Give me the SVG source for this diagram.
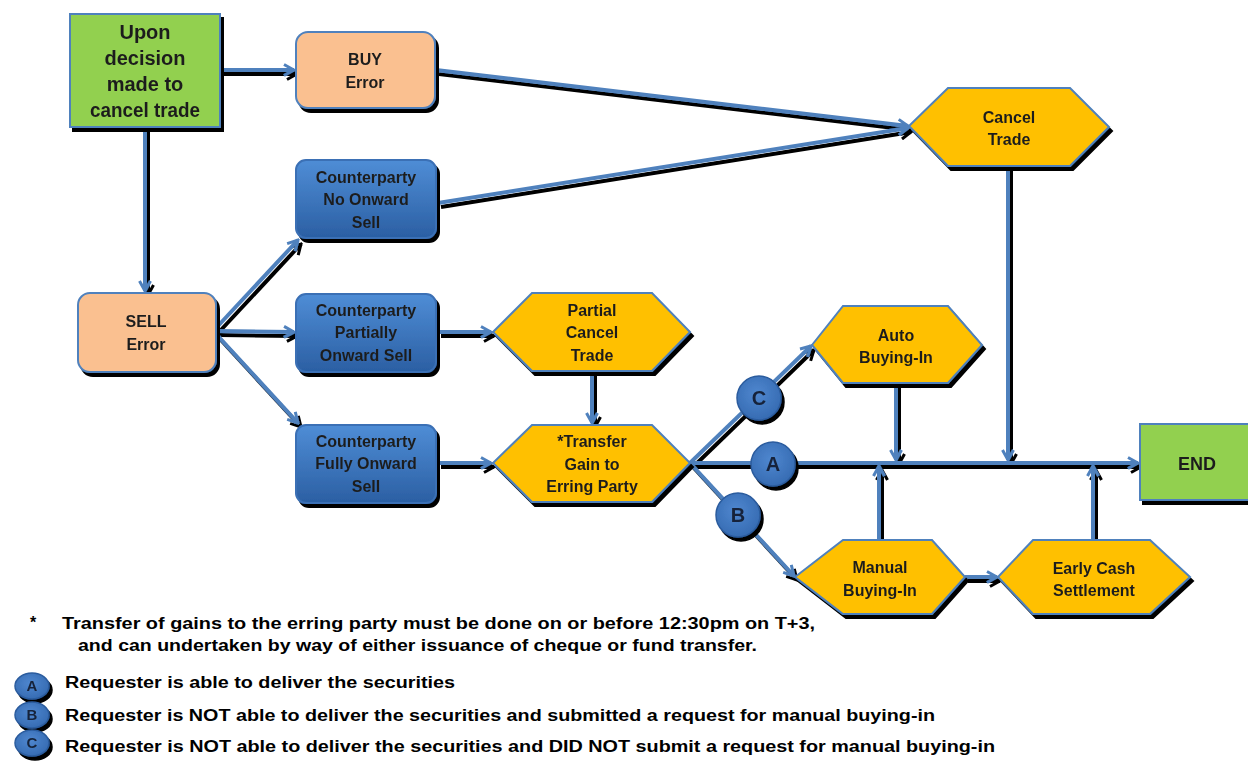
<svg xmlns="http://www.w3.org/2000/svg" width="1248" height="764" viewBox="0 0 1248 764">
<defs>
  <linearGradient id="gBlue" x1="0" y1="0" x2="0" y2="1">
    <stop offset="0" stop-color="#4F8DD6"/>
    <stop offset="1" stop-color="#2B5FA3"/>
  </linearGradient>
  <radialGradient id="gCirc" cx="0.45" cy="0.4" r="0.7">
    <stop offset="0" stop-color="#4F87CF"/>
    <stop offset="1" stop-color="#3267AE"/>
  </radialGradient>
  <filter id="sh" x="-10%" y="-10%" width="130%" height="140%">
    <feDropShadow dx="3" dy="4" stdDeviation="0.6" flood-color="#000" flood-opacity="1"/>
  </filter>
  <marker id="arr" viewBox="0 0 14 14" refX="12" refY="7" markerWidth="14" markerHeight="14" markerUnits="userSpaceOnUse" orient="auto">
    <path d="M2,1.5 L12,7 L2,12.5" fill="none" stroke="#4F81BD" stroke-width="3" stroke-linejoin="miter"/>
  </marker>
</defs>
<style>
  .node { filter: url(#sh); }
  .green { fill: #92D050; stroke: #4F81BD; stroke-width: 2; }
  .peach { fill: #FAC090; stroke: #4F81BD; stroke-width: 2; }
  .blue { fill: url(#gBlue); stroke: #3A6FB5; stroke-width: 2; }
  .gold { fill: #FFC000; stroke: #4F81BD; stroke-width: 2; }
  .circ { fill: url(#gCirc); stroke: #2C5C9E; stroke-width: 1.5; }
  .t { font-family: "Liberation Sans", Arial, sans-serif; font-weight: bold; font-size: 16px; fill: #1E1E1E; text-anchor: middle; }
  .tb { font-size: 20px; }
  .lt { font-family: "Liberation Sans", Arial, sans-serif; font-weight: bold; font-size: 20px; fill: #16243A; text-anchor: middle; }
  .ls { font-family: "Liberation Sans", Arial, sans-serif; font-weight: bold; font-size: 15px; fill: #16243A; text-anchor: middle; }
  .ft { font-family: "Liberation Sans", Arial, sans-serif; font-weight: bold; font-size: 16px; fill: #000; }
  .conn path, .conn line { fill: none; stroke: #4F81BD; stroke-width: 4; }
</style>
<rect width="1248" height="764" fill="#FFFFFF"/>

<g id="connectors" class="conn" filter="url(#sh)">
  <line x1="220" y1="70" x2="294" y2="70" marker-end="url(#arr)"/>
  <line x1="145" y1="127" x2="145" y2="291" marker-end="url(#arr)"/>
  <line x1="436" y1="70" x2="908" y2="126" marker-end="url(#arr)"/>
  <line x1="438" y1="203" x2="908" y2="128" marker-end="url(#arr)"/>
  <line x1="217" y1="327" x2="298" y2="240" marker-end="url(#arr)"/>
  <line x1="217" y1="331" x2="294" y2="332" marker-end="url(#arr)"/>
  <line x1="217" y1="335" x2="298" y2="423" marker-end="url(#arr)"/>
  <line x1="438" y1="332" x2="491" y2="332" marker-end="url(#arr)"/>
  <line x1="592" y1="371" x2="592" y2="423" marker-end="url(#arr)"/>
  <line x1="438" y1="463" x2="491" y2="463" marker-end="url(#arr)"/>
  <line x1="690" y1="463" x2="1138" y2="463" marker-end="url(#arr)"/>
  <line x1="690" y1="463" x2="811" y2="346" marker-end="url(#arr)"/>
  <line x1="690" y1="463" x2="794" y2="576" marker-end="url(#arr)"/>
  <line x1="965" y1="577" x2="997" y2="577" marker-end="url(#arr)"/>
  <line x1="896" y1="384" x2="896" y2="460" marker-end="url(#arr)"/>
  <line x1="1008" y1="166" x2="1008" y2="460" marker-end="url(#arr)"/>
  <line x1="879" y1="540" x2="879" y2="466" marker-end="url(#arr)"/>
  <line x1="1093" y1="540" x2="1093" y2="466" marker-end="url(#arr)"/>
</g>

<g id="start" class="node">
  <rect x="70" y="14" width="150" height="113" class="green"/>
  <text class="t tb" x="145" y="39">Upon</text>
  <text class="t tb" x="145" y="65">decision</text>
  <text class="t tb" x="145" y="91">made to</text>
  <text class="t tb" x="145" y="117" textLength="110" lengthAdjust="spacingAndGlyphs">cancel trade</text>
</g>

<g id="buy-error" class="node">
  <rect x="296" y="32" width="139" height="76" rx="12" class="peach"/>
  <text class="t" x="365" y="65">BUY</text>
  <text class="t" x="365" y="88">Error</text>
</g>

<g id="sell-error" class="node">
  <rect x="78" y="293" width="138" height="79" rx="12" class="peach"/>
  <text class="t" x="146" y="327">SELL</text>
  <text class="t" x="146" y="350">Error</text>
</g>

<g id="cp-no-onward" class="node">
  <rect x="296" y="160" width="140" height="78" rx="10" class="blue"/>
  <text class="t" x="366" y="183">Counterparty</text>
  <text class="t" x="366" y="205">No Onward</text>
  <text class="t" x="366" y="228">Sell</text>
</g>

<g id="cp-partial" class="node">
  <rect x="296" y="294" width="140" height="78" rx="10" class="blue"/>
  <text class="t" x="366" y="316">Counterparty</text>
  <text class="t" x="366" y="338">Partially</text>
  <text class="t" x="366" y="361">Onward Sell</text>
</g>

<g id="cp-fully" class="node">
  <rect x="296" y="425" width="140" height="78" rx="10" class="blue"/>
  <text class="t" x="366" y="447">Counterparty</text>
  <text class="t" x="366" y="469">Fully Onward</text>
  <text class="t" x="366" y="492">Sell</text>
</g>

<g id="cancel-trade" class="node">
  <polygon points="909,126 948,88 1070,88 1109,127 1070,166 948,166" class="gold"/>
  <text class="t" x="1009" y="123">Cancel</text>
  <text class="t" x="1009" y="145">Trade</text>
</g>

<g id="partial-cancel" class="node">
  <polygon points="493,332 532,293 652,293 690,332 652,371 532,371" class="gold"/>
  <text class="t" x="592" y="316">Partial</text>
  <text class="t" x="592" y="338">Cancel</text>
  <text class="t" x="592" y="361">Trade</text>
</g>

<g id="transfer-gain" class="node">
  <polygon points="493,463 532,425 652,425 690,463 652,502 532,502" class="gold"/>
  <text class="t" x="592" y="447">*Transfer</text>
  <text class="t" x="592" y="470">Gain to</text>
  <text class="t" x="592" y="492">Erring Party</text>
</g>

<g id="auto-buying-in" class="node">
  <polygon points="812,345 843,306 948,306 982,345 948,383 843,383" class="gold"/>
  <text class="t" x="896" y="341">Auto</text>
  <text class="t" x="896" y="363">Buying-In</text>
</g>

<g id="manual-buying-in" class="node">
  <polygon points="795,577 843,540 932,540 965,577 932,614 843,614" class="gold"/>
  <text class="t" x="880" y="573">Manual</text>
  <text class="t" x="880" y="596">Buying-In</text>
</g>

<g id="early-cash" class="node">
  <polygon points="998,577 1033,540 1150,540 1190,577 1150,614 1033,614" class="gold"/>
  <text class="t" x="1094" y="574">Early Cash</text>
  <text class="t" x="1094" y="596">Settlement</text>
</g>

<g id="end" class="node">
  <rect x="1140" y="424" width="112" height="76" class="green"/>
  <text class="t" x="1197" y="470" style="font-size:18px">END</text>
</g>

<g id="circle-c" class="node">
  <circle cx="759" cy="398" r="22" class="circ"/>
  <text class="lt" x="759" y="405">C</text>
</g>
<g id="circle-a" class="node">
  <circle cx="773" cy="464" r="22" class="circ"/>
  <text class="lt" x="773" y="471">A</text>
</g>
<g id="circle-b" class="node">
  <circle cx="738" cy="515" r="22" class="circ"/>
  <text class="lt" x="738" y="522">B</text>
</g>

<g id="footnote">
  <text class="ft" x="30" y="628">*</text>
  <text class="ft" x="62" y="629" textLength="753" lengthAdjust="spacingAndGlyphs">Transfer of gains to the erring party must be done on or before 12:30pm on T+3,</text>
  <text class="ft" x="78" y="651" textLength="679" lengthAdjust="spacingAndGlyphs">and can undertaken by way of either issuance of cheque or fund transfer.</text>
</g>

<g id="legend">
  <g id="legend-a" class="node">
    <ellipse cx="32" cy="686" rx="17" ry="13" class="circ"/>
    <text class="ls" x="32" y="691">A</text>
  </g>
  <text class="ft" x="65" y="688" textLength="390" lengthAdjust="spacingAndGlyphs">Requester is able to deliver the securities</text>
  <g id="legend-b" class="node">
    <ellipse cx="32" cy="715" rx="17" ry="13" class="circ"/>
    <text class="ls" x="32" y="720">B</text>
  </g>
  <text class="ft" x="65" y="721" textLength="870" lengthAdjust="spacingAndGlyphs">Requester is NOT able to deliver the securities and submitted  a request for manual buying-in</text>
  <g id="legend-c" class="node">
    <ellipse cx="32" cy="743" rx="17" ry="13" class="circ"/>
    <text class="ls" x="32" y="748">C</text>
  </g>
  <text class="ft" x="65" y="752" textLength="930" lengthAdjust="spacingAndGlyphs">Requester is NOT able to deliver the securities and DID NOT submit  a request for manual buying-in</text>
</g>
</svg>
